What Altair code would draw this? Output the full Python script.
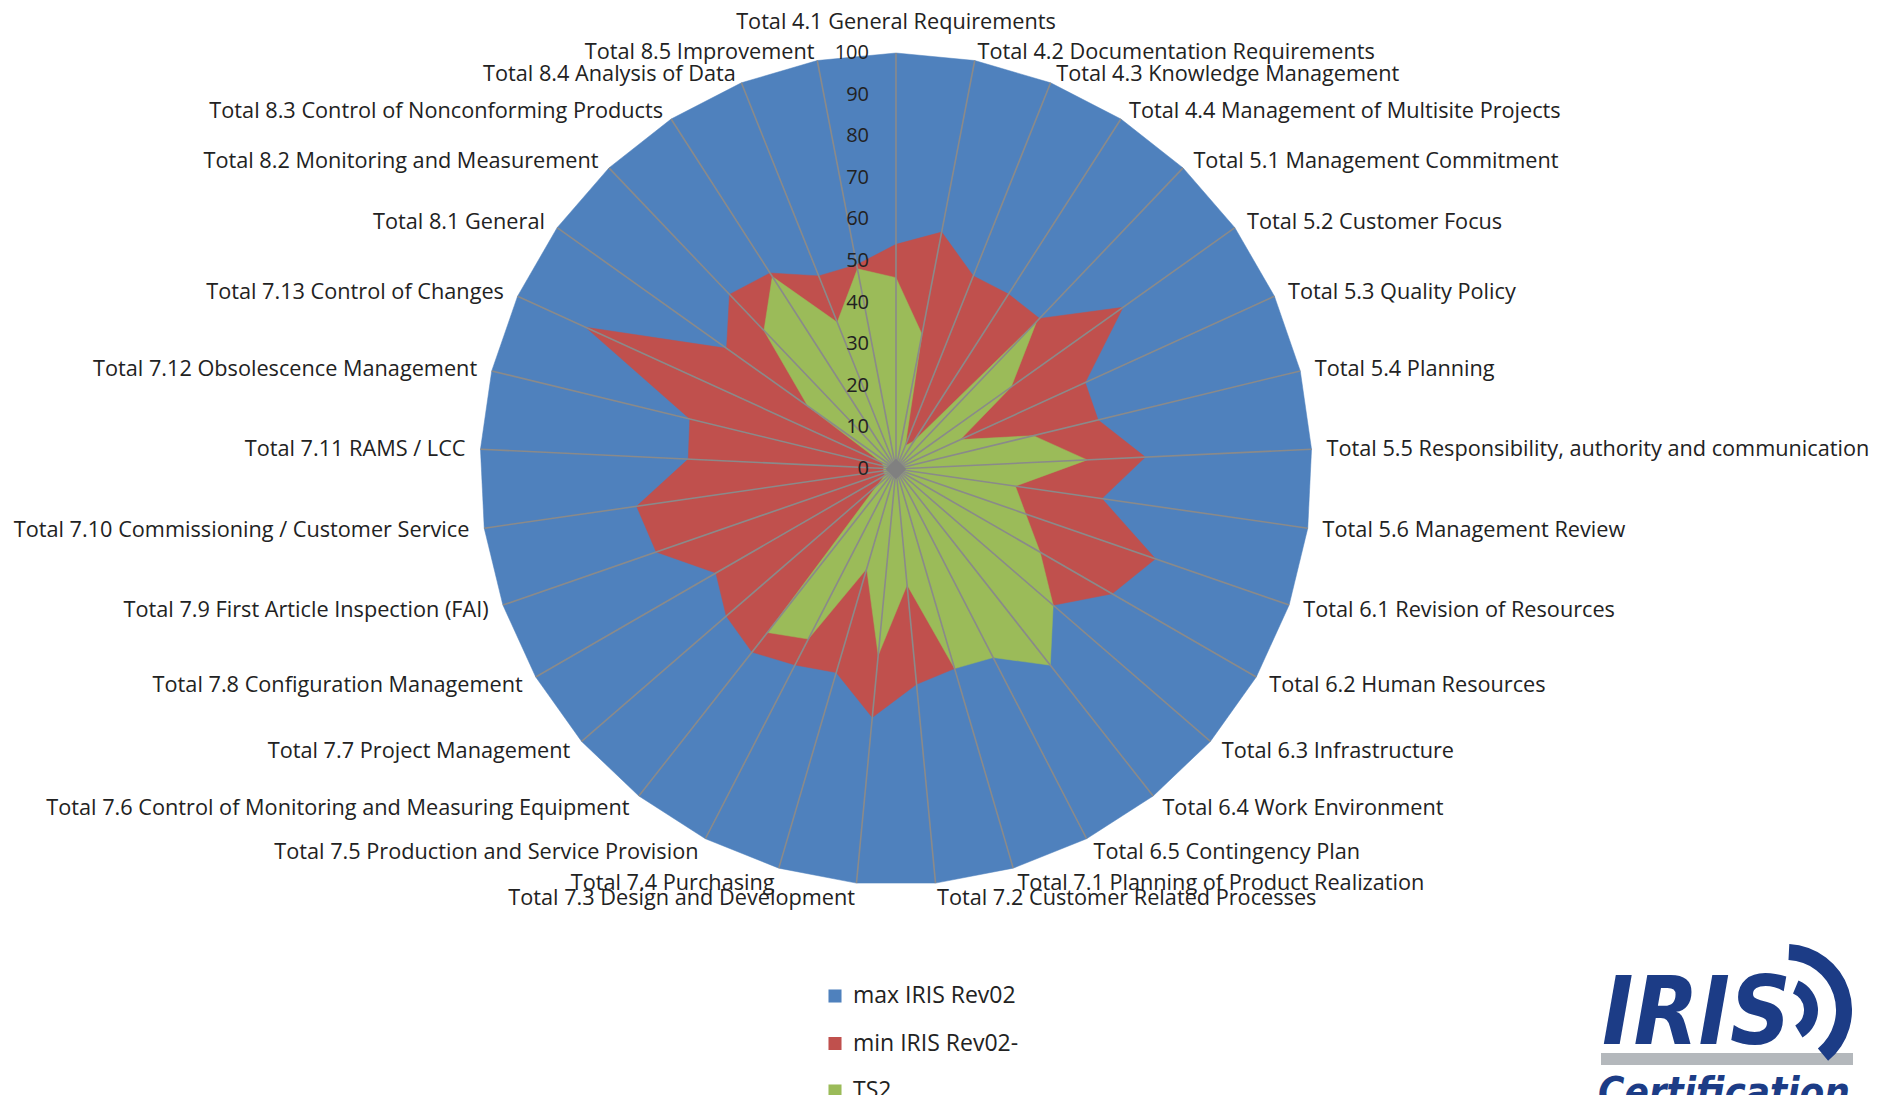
import altair as alt
import pandas as pd

categories = [
    "Total 4.1 General Requirements",
    "Total 4.2 Documentation Requirements",
    "Total 4.3 Knowledge Management",
    "Total 4.4 Management of Multisite Projects",
    "Total 5.1 Management Commitment",
    "Total 5.2 Customer Focus",
    "Total 5.3 Quality Policy",
    "Total 5.4 Planning",
    "Total 5.5 Responsibility, authority and communication",
    "Total 5.6 Management Review",
    "Total 6.1 Revision of Resources",
    "Total 6.2 Human Resources",
    "Total 6.3 Infrastructure",
    "Total 6.4 Work Environment",
    "Total 6.5 Contingency Plan",
    "Total 7.1 Planning of Product Realization",
    "Total 7.2 Customer Related Processes",
    "Total 7.3 Design and Development",
    "Total 7.4 Purchasing",
    "Total 7.5 Production and Service Provision",
    "Total 7.6 Control of Monitoring and Measuring Equipment",
    "Total 7.7 Project Management",
    "Total 7.8 Configuration Management",
    "Total 7.9 First Article Inspection (FAI)",
    "Total 7.10 Commissioning / Customer Service",
    "Total 7.11 RAMS / LCC",
    "Total 7.12 Obsolescence Management",
    "Total 7.13 Control of Changes",
    "Total  8.1 General",
    "Total 8.2 Monitoring and Measurement",
    "Total 8.3 Control of Nonconforming Products",
    "Total 8.4 Analysis of Data",
    "Total 8.5 Improvement",
]

series_names = ["max IRIS Rev02", "min IRIS Rev02-", "TS2"]
series_colors = ["#4F81BD", "#C0504D", "#9BBB59"]

max_values = [100, 100, 100, 100, 100, 100, 100, 100, 100, 100, 100,
              100, 100, 100, 100, 100, 100, 100, 100, 100, 100, 100,
              100, 100, 100, 100, 100, 100, 100, 100, 100, 100, 100]
min_values = [54, 58, 50, 50, 50, 67, 50, 50, 60, 50, 66,
              60, 50, 50, 50, 50, 52, 60, 51, 53, 56, 54,
              50, 61, 63, 50, 51, 82, 50, 58, 56, 50, 50]
ts2_values = [46, 33, 6, 8, 49, 34, 17, 34, 46, 29, 33,
              40, 50, 60, 51, 50, 28, 45, 25, 46, 50, 6,
              3, 3, 3, 3, 3, 4, 26, 46, 55, 38, 49]

tick_values = [0, 10, 20, 30, 40, 50, 60, 70, 80, 90, 100]

N = len(categories)

# ---- layout constants (view pixels) ----
W, H = 1880, 1087
PX = 4.16             # pixels per value unit
CXV, CYV = 888, 461   # centre of the radar in view pixels
XMIN, XMAX = -CXV / PX, (W - CXV) / PX
YMIN, YMAX = -(H - CYV) / PX, CYV / PX
LABEL_R = 431 / PX
TOP_R = 447.5 / PX
UP_SHIFT = 6 / PX     # upper labels sit a little lower
FONT = "Open Sans"
TXT = "#222222"
LABEL_FS = 21.7

xs = alt.Scale(domain=[XMIN, XMAX], nice=False, zero=False)
ys = alt.Scale(domain=[YMIN, YMAX], nice=False, zero=False)

rows = []
for s, vals in zip(series_names, [max_values, min_values, ts2_values]):
    for k, v in enumerate(vals):
        rows.append({"series": s, "k": k, "value": v})
poly_df = pd.DataFrame(rows)

cat_df = pd.DataFrame({"label": categories, "k": list(range(N))})
tick_df = pd.DataFrame({"t": tick_values, "lab": [str(t) for t in tick_values]})
leg_df = pd.DataFrame({"name": series_names, "i": list(range(len(series_names)))})

ang = f"2*PI*datum.k/{N}"

layers = []
for s, c in zip(series_names, series_colors):
    layers.append(
        alt.Chart(poly_df)
        .transform_filter(alt.datum.series == s)
        .transform_calculate(ang=ang)
        .transform_calculate(px="datum.value*sin(datum.ang)",
                             py="datum.value*cos(datum.ang)")
        .mark_line(interpolate="linear-closed", fill=c, stroke=c, strokeWidth=0.5)
        .encode(x=alt.X("px:Q", scale=xs, axis=None),
                y=alt.Y("py:Q", scale=ys, axis=None),
                order=alt.Order("k:Q"))
    )

grid = (
    alt.Chart(cat_df)
    .transform_calculate(ang=ang)
    .transform_calculate(gx="100*sin(datum.ang)", gy="100*cos(datum.ang)",
                         ox="0", oy="0")
    .mark_rule(color="#8A8A8A", strokeWidth=1.6)
    .encode(x=alt.X("ox:Q", scale=xs, axis=None), y=alt.Y("oy:Q", scale=ys, axis=None),
            x2="gx:Q", y2="gy:Q")
)
layers.append(grid)

centre = (
    alt.Chart(cat_df)
    .transform_filter(alt.datum.k == 0)
    .transform_calculate(ox="0", oy="0")
    .mark_point(shape="diamond", filled=True, size=420, color="#808080", opacity=1)
    .encode(x=alt.X("ox:Q", scale=xs, axis=None), y=alt.Y("oy:Q", scale=ys, axis=None))
)
layers.append(centre)

ticks = (
    alt.Chart(tick_df)
    .mark_text(align="right", baseline="middle", font=FONT, fontSize=20, color=TXT)
    .encode(x=alt.value(CXV - 27), y=alt.Y("t:Q", scale=ys, axis=None), text="lab:N")
)
layers.append(ticks)

lab_base = alt.Chart(cat_df).transform_calculate(ang=ang).transform_calculate(
    sx="sin(datum.ang)", cy="cos(datum.ang)")
for cond, align, r in [("datum.sx > 0.01", "left", LABEL_R),
                       ("datum.sx < -0.01", "right", LABEL_R),
                       ("abs(datum.sx) <= 0.01", "center", TOP_R)]:
    shift = UP_SHIFT if align != "center" else 0
    layers.append(
        lab_base.transform_filter(cond)
        .transform_calculate(lx=f"{r}*datum.sx",
                             ly=f"{r}*datum.cy - {shift}*max(0, datum.cy)")
        .mark_text(align=align, baseline="middle", font=FONT, fontSize=LABEL_FS, color=TXT)
        .encode(x=alt.X("lx:Q", scale=xs, axis=None), y=alt.Y("ly:Q", scale=ys, axis=None),
                text="label:N")
    )

# legend (bottom centre)
LEG_Y0, LEG_DY = 988, 47.5
leg_base = alt.Chart(leg_df).transform_calculate(
    ly=f"({CYV} - ({LEG_Y0} + {LEG_DY}*datum.i))/{PX}")
layers.append(
    leg_base.mark_square(size=170, filled=True, opacity=1)
    .encode(x=alt.value(827), y=alt.Y("ly:Q", scale=ys, axis=None),
            color=alt.Color("name:N", scale=alt.Scale(domain=series_names, range=series_colors),
                            legend=None))
)
layers.append(
    leg_base.mark_text(align="left", baseline="middle", font=FONT, fontSize=23, color=TXT)
    .encode(x=alt.value(845), y=alt.Y("ly:Q", scale=ys, axis=None), text="name:N")
)

# IRIS Certification logo
logo_df = pd.DataFrame({"word": ["IRIS", "Certification"]})
LOGO_BLUE = "#1C3C86"
LOGO_FONT = "'Liberation Sans Narrow', 'DejaVu Sans Condensed', sans-serif"
layers.append(
    alt.Chart(logo_df).transform_filter(alt.datum.word == "IRIS")
    .mark_text(align="left", baseline="alphabetic", font=LOGO_FONT,
               fontSize=94, fontWeight="bold", fontStyle="italic", color=LOGO_BLUE)
    .encode(x=alt.value(1594), y=alt.value(1036), text="word:N")
)
layers.append(
    alt.Chart(logo_df).transform_filter(alt.datum.word == "Certification")
    .mark_text(align="left", baseline="alphabetic", font=LOGO_FONT,
               fontSize=40, fontWeight="bold", fontStyle="italic", color=LOGO_BLUE)
    .encode(x=alt.value(1590), y=alt.value(1098), text="word:N")
)
layers.append(
    alt.Chart(logo_df).transform_filter(alt.datum.word == "IRIS")
    .mark_rule(color="#B4B8BC", strokeWidth=12)
    .encode(x=alt.value(1593), x2=alt.value(1845), y=alt.value(1051))
)
layers.append(
    alt.Chart(logo_df).transform_filter(alt.datum.word == "IRIS")
    .mark_arc(innerRadius=50, outerRadius=66, theta=0.05, theta2=2.45, color=LOGO_BLUE)
    .encode(x=alt.value(1778), y=alt.value(1002))
)
layers.append(
    alt.Chart(logo_df).transform_filter(alt.datum.word == "IRIS")
    .mark_arc(innerRadius=18, outerRadius=32, theta=0.4, theta2=2.6, color=LOGO_BLUE)
    .encode(x=alt.value(1778), y=alt.value(1002))
)

chart = (
    alt.layer(*layers)
    .properties(width=W, height=H, padding=0,
                autosize=alt.AutoSizeParams(type="none"))
    .configure_view(strokeWidth=0)
)

chart.save("out.html", embed_options={"renderer": "svg", "actions": False})
